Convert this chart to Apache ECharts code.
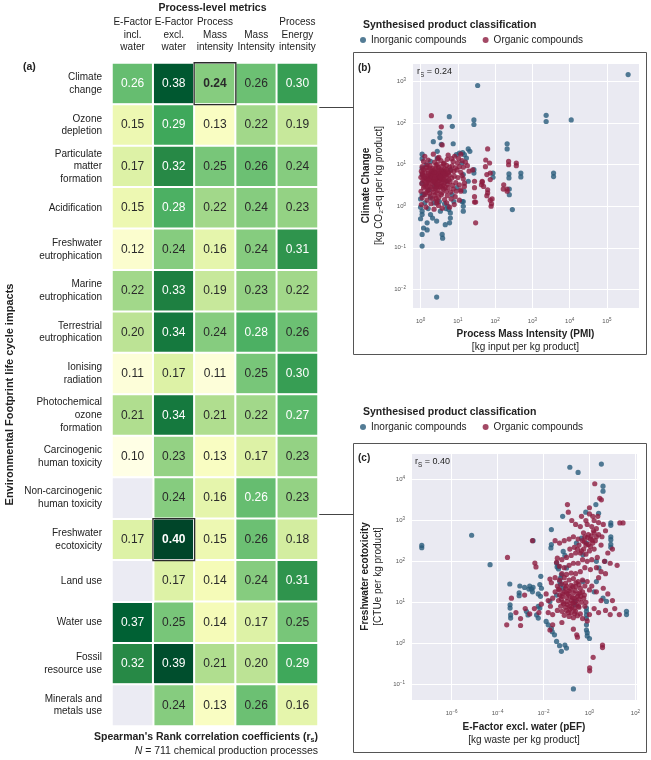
<!DOCTYPE html>
<html><head><meta charset="utf-8">
<script src="https://cdn.jsdelivr.net/npm/echarts@6/dist/echarts.min.js"></script>
<style>html,body{margin:0;padding:0;background:#fff}#c{width:651px;height:760px}</style>
</head><body><div id="c"></div>
<script>
// ---------- DATA ----------
const metrics = ['E-Factor\nincl.\nwater','E-Factor\nexcl.\nwater','Process\nMass\nintensity','Mass\nIntensity','Process\nEnergy\nintensity'];
const impacts = ['Climate\nchange','Ozone\ndepletion','Particulate\nmatter\nformation','Acidification','Freshwater\neutrophication','Marine\neutrophication','Terrestrial\neutrophication','Ionising\nradiation','Photochemical\nozone\nformation','Carcinogenic\nhuman toxicity','Non-carcinogenic\nhuman toxicity','Freshwater\necotoxicity','Land use','Water use','Fossil\nresource use','Minerals and\nmetals use'];
// Spearman rank coefficients, rows = impacts, cols = metrics (null = not available)
const rsValues = [
  [0.262,0.38,0.24,0.258,0.30],
  [0.15,0.29,0.13,0.22,0.19],
  [0.17,0.32,0.25,0.258,0.24],
  [0.15,0.28,0.22,0.24,0.23],
  [0.12,0.24,0.16,0.24,0.31],
  [0.22,0.33,0.19,0.23,0.22],
  [0.20,0.34,0.24,0.28,0.258],
  [0.11,0.17,0.11,0.25,0.30],
  [0.21,0.34,0.21,0.22,0.27],
  [0.10,0.23,0.13,0.17,0.23],
  [null,0.24,0.16,0.262,0.23],
  [0.17,0.40,0.15,0.258,0.18],
  [null,0.17,0.14,0.24,0.31],
  [0.37,0.25,0.14,0.17,0.25],
  [0.32,0.39,0.21,0.20,0.29],
  [null,0.24,0.13,0.258,0.16]
];
const highlightCells = [[2,0],[1,11]]; // [metric index, impact index]
const nProcesses = 711;
const rsPanelB = '0.24';
const rsPanelC = '0.40';
const seriesNames = ['Inorganic compounds','Organic compounds'];

// Panel (b): [PMI, Climate change]
const pmiInorganic = [[370000,1480],[34,810],[5.9,144],[27,120],[27,93],[7.1,84],[3.3,59],[3.3,45],[2.2,36],[7.5,32],[3.6,31],[2.8,21],[19,24],[21,21],[13.5,19.5],[2340,155],[2340,110],[11000,120],[210,32],[210,24],[235,6.0],[235,4.8],[490,6.3],[490,5.1],[3700,6.3],[3700,5.2],[88,6.3],[88,5.0],[27,7.6],[27,6.3],[240,2.6],[240,1.9],[290,0.83],[1.1,0.11],[1.1,0.21],[2.7,0.0065],[3.8,0.21],[3.9,0.17],[1.5,0.27],[1.1,18],[1.1,14],[1.1,0.76],[1.1,0.63],[1.6,0.88],[1.85,0.63],[2.1,0.52],[2.7,0.44],[3.4,0.76],[4.8,0.88],[5.7,0.83],[6.3,0.69],[6.3,0.52],[6.0,0.4],[1.5,0.4],[4.6,0.36],[14,1.3],[14,1.0],[14,0.76],[7.8,1.3],[1.2,1.9],[1.3,1.2],[1.85,1.6],[2.3,1.2],[3.2,1.3],[4.4,1.15],[5.4,1.0],[1.1,8.3],[1.1,5.8],[1.1,3.6],[1.1,1.9],[1.4,10],[1.85,12],[2.8,14.5],[4,7],[5.1,4],[6.3,7.6],[9.1,17.5],[11,19],[13,11],[14,5.8],[15,2.3],[17,14.5],[15,17.5],[13,1.3],[19,4],[9.5,2.8],[7,1.9],[2.4,3],[1.7,2.5],[1.0,1.5],[1.0,0.95],[1.0,0.5],[1.2,0.3]];
const pmiOrganic = [[1.95,152],[3.6,82],[3.8,30],[63,24],[56,13],[71,11],[74,6.3],[230,12],[230,10],[370,11],[370,9.5],[170,3.3],[165,2.6],[210,2.6],[210,2.3],[83,1.5],[80,1.15],[63,2.5],[63,2.1],[60,1.8],[45,4],[43,3.3],[28,4],[28,2.8],[28,1.7],[28,1.26],[15,3],[14,4.6],[15,3.6],[12,2.3],[55,9],[30,0.4],[74,4.4],[60,5.8],[49,3],[74,1.4],[78,1.0],[45,3.8],[30,1.26],
[1.3,16],[2.2,18],[3.1,15],[5.5,17],[8.2,16],[12,18],[6.8,14],
[1.2,12],[1.6,13],[2.4,11.5],[3.5,12.5],[4.3,11],[5.2,13.5],[7.5,12],[9.8,11],[13,12.5],[16,11.5],[2.9,14],[10.5,14],
[1.1,9],[1.4,8.5],[1.8,9.5],[2.1,8.2],[2.6,9.8],[3,8.6],[3.7,9.2],[4.5,8.1],[5,9.6],[6,8.8],[7,9.4],[8.5,8.4],[11,9],[14,8.7],[18,9.5],[1.5,10],[2.8,10.2],[4.1,10.5],
[1.05,7],[1.3,6.5],[1.6,7.5],[1.9,6.2],[2.2,7.2],[2.5,6.6],[2.9,7.8],[3.3,6.3],[3.8,7.1],[4.2,6.8],[4.9,7.6],[5.6,6.4],[6.5,7.3],[7.8,6.9],[9.5,7.5],[12,6.6],[1.2,7.7],[2,6.8],[3.5,7.5],[4.6,6.1],[20,7],[25,7.5],
[1.02,5],[1.15,5.6],[1.35,4.8],[1.55,5.3],[1.75,5.8],[2.05,4.9],[2.3,5.5],[2.7,4.6],[3.05,5.2],[3.4,5.7],[3.9,4.7],[4.4,5.4],[5.1,5],[5.9,5.6],[6.9,4.8],[8,5.3],[10,4.9],[13,5.5],[1.45,4.6],[2.55,5.9],[3.6,4.5],[4.8,5.9],[1.85,5.1],[2.95,4.7],
[1.08,3.5],[1.25,4.1],[1.42,3.2],[1.65,3.8],[1.95,4.3],[2.15,3.4],[2.45,3.9],[2.8,3.1],[3.2,4.2],[3.6,3.6],[4,3.2],[4.7,4],[5.3,3.4],[6.2,3.9],[7.2,3.2],[8.8,3.7],[11,3.3],[1.7,3.1],[2.6,3.5],[3.4,3],[1.15,4.4],[2.25,4.2],[4.3,3.7],[5.7,4.3],
[1.03,2.3],[1.2,2.8],[1.38,2.1],[1.6,2.5],[1.9,2.9],[2.2,2.2],[2.5,2.7],[2.9,2.4],[3.3,2.9],[3.7,2.1],[4.2,2.6],[4.9,2.3],[5.5,2.8],[6.4,2.2],[7.5,2.6],[9,2.3],[1.75,2.05],[2.75,2.1],[3.9,2.75],[12,2.5],
[1.1,1.6],[1.3,1.9],[1.5,1.4],[1.8,1.75],[2.1,1.5],[2.4,1.85],[2.8,1.35],[3.1,1.65],[3.6,1.9],[4.4,1.45],[5.2,1.8],[6.6,1.5],[8.5,1.7],[11,1.4],[2.6,1.55],
[1.05,1.1],[1.4,0.95],[1.9,1.15],[2.3,0.85],[3,1.05],[3.8,0.9],[5,1.2],[6,0.95],[2.7,1.2],[8,1.1],
[1.7,4.5],[2.35,3.7],[2.05,6],[2.65,5.2],[3.15,3.8],[1.45,3.6],[1.9,5.5],[2.4,4.6],[2.95,6.1],[3.5,4.9],[1.6,6.1],[2.15,2.6],[2.7,2.9],[1.3,3.0],[3.75,5.6],[4.2,4.4],[1.55,2.4],[2.35,6.6],[3.1,7],[1.8,8.2],[2.5,8],[4,6],[1.25,5.2],[1.12,6.2],[1.65,4.2],[2.85,3.4],[2.2,3.9],[3.4,5.1],[4.6,2.9],[5.4,6.7]];

// Panel (c): [pEF, Freshwater ecotoxicity]
const pefInorganic = [[5e-8,245],[5e-8,215],[7.4e-6,435],[4.7e-5,83],[3.4e-4,28],[3.5e-4,8.7],[3.5e-4,7.2],[3.7e-4,4.9],[3.7e-4,4.1],[0.14,20000],[0.32,15000],[3.3,24000],[0.022,600],[3.5e-3,320],[3.9,6900],[3.9,5200],[1.9,2450],[0.69,1600],[0.068,1260],[2.5,1500],[8.5,870],[8.5,760],[8.5,400],[8.5,340],[8.5,260],[8.5,220],[41,6],[41,5],[0.2,0.076],[0.06,0.63],[0.05,0.87],[0.037,1.1],[0.03,1.6],[0.8,1.8],[0.8,1.5],[0.022,257],[0.021,213],[7.6e-3,43],[8.7e-4,17],[8.7e-4,14.5],[2.3e-3,21],[3.3e-3,18],[6.9e-3,27],[8.1e-3,22],[0.039,73],[0.045,65],[1.5e-3,23],[3.5e-3,23],[5.9e-3,16],[7.4e-3,14],[5.9e-3,8],[6.9e-3,7.2],[0.013,3.4],[0.016,2.8],[0.022,2.3],[0.024,1.9],[0.051,32],[0.055,27],[0.07,22],[0.23,10.5],[0.23,8.7],[0.74,7.2],[0.74,6],[0.74,4.9],[0.74,4],[0.74,2.8],[0.74,2.1],[0.52,32],[2,100],[2.6,69],[4.7,100],[2,32],[1.6,18],[0.52,145],[0.74,280],[0.45,370],[0.27,280],[0.072,175],[0.085,140],[0.037,91],[0.044,76],[0.1,69],[0.06,47],[0.055,39],[0.037,15],[0.019,10.5],[2.5e-3,25],[3e-3,21],[9.3e-4,25],[5e-3,4.9],[5.9e-3,4.1],[1.8e-3,6],[2.1e-3,4.9],[1.0,1.3],[0.085,0.9],[0.1,0.76],[3.9,12.6],[5.5,10.5]];
const pefOrganic = [[1.7,7900],[2.8,3500],[3.3,3200],[1.0,2050],[0.11,2450],[0.12,1600],[0.17,1000],[0.45,1260],[1.0,1450],[1.4,1260],[2.3,1260],[21,870],[29,870],[0.8,800],[1.26,710],[2,630],[1.6,500],[0.9,450],[2.5,450],[1.1,350],[0.63,400],[1.8,320],[0.5,320],[0.32,350],[0.2,400],[0.13,350],[0.08,320],[0.05,280],[0.032,320],[3.5,400],[1.4,280],[0.7,250],[0.35,250],[0.22,220],[0.14,200],[3.3e-3,320],[2.7e-4,125],
[0.56,200],[1.0,180],[1.6,200],[0.4,160],[0.25,160],[0.16,140],[0.1,125],[0.063,110],[0.04,120],[0.037,95],[0.5,110],[0.8,100],[1.26,110],[2.2,125],[0.32,90],[0.2,90],[0.13,80],[0.08,70],[0.05,76],[0.63,70],[1.1,63],[2,70],[3.2,56],[5,50],[16,80],[4.2e-3,91],[4.7e-3,73],[0.4,56],[0.25,50],[0.16,52],[0.1,48],[0.063,50],[0.019,37],[0.022,30],
[0.032,40],[0.05,35],[0.08,40],[0.13,35],[0.2,38],[0.32,32],[0.5,35],[0.8,32],[0.04,25],[0.063,28],[0.1,25],[0.16,26],[0.25,24],[0.4,22],[0.63,25],[1.0,20],[0.032,18],[0.05,20],[0.08,18],[0.13,19],[0.2,17],[0.32,16],[0.5,18],[0.063,14],[0.1,13],[0.14,14],[0.22,12.6],[0.35,12],[0.56,12.6],[0.045,11],[0.07,10],[0.11,10.5],[0.18,9.5],[0.28,9],[0.45,10],[0.056,8],[0.09,7.6],[0.14,8],[0.22,7],[0.35,7.6],[0.04,6.3],[0.063,6],[0.1,6.3],[0.16,5.6],[0.25,6],[0.4,5.2],[0.08,4.8],[0.13,4.5],[0.2,4.2],[0.025,5],[0.016,5.6],[0.02,8],[0.016,11],[0.025,12.6],[0.013,16],[8e-3,9],[6.3e-3,5.6],[4e-3,7],[2.5e-3,5.2],[1.6e-3,7],[1e-3,4],[6.3e-4,5.6],[4e-4,12.6],[2.5e-4,2.8],[1e-3,2.7],[1.5e-3,15],[0.019,2.1],[0.025,2.8],[0.063,3.2],[0.28,1.6],[0.3,1.4],[0.2,2.2],[3.7,0.9],[3.7,0.78],[1.45,0.45],[1.02,0.25],[1.02,0.21],
[1.26,25],[2,18],[3.2,11],[2.5,5.6],[1.6,7],[5,6.3],[8,5],[12.6,7],[20,5],[6.3,16],[10,11],[4,22],[2.5,40],[0.63,8],[1,5],[0.5,4],[0.8,3.5],
[4,800],[5,560],[3.2,250],[6.3,160],[4.5,100],[8,90],[10,200],[2.5,890],[1.6,1000],[0.7,1000],[0.4,710],[0.25,800],
[0.07,16],[0.09,22],[0.12,16],[0.15,21],[0.18,13],[0.24,19],[0.3,14],[0.38,17],[0.06,12],[0.11,8.8],[0.16,11],[0.2,9.5],[0.27,11],[0.33,8],[0.42,14],[0.05,15],[0.075,9.2],[0.14,6.8],[0.1,17],[0.19,24],[0.26,30],[0.35,27],[0.6,15],[0.7,10],[0.09,29],[0.045,21],[0.17,7.3],[0.23,5.3],[0.12,5.6],[0.3,4.7],
[0.6,300],[0.8,380],[1.2,420],[1.5,560],[0.9,260],[1.1,230],[0.45,180],[0.7,150],[1.3,330],[2,400],[0.55,500],[0.3,200]];

// ---------- BUILD ----------
const FONT = 'Liberation Sans, Arial, Helvetica, sans-serif';
const INK = '#222';
const COL_INORG = '#285b7a';
const COL_ORG = '#8c1c3e';
const BG = '#eaeaf2';

const heatData = [], missingData = [], hlData = [];
rsValues.forEach((row, r) => row.forEach((v, c) => {
  if (v == null) { missingData.push([c, r, 0]); return; }
  const hl = highlightCells.some(h => h[0] === c && h[1] === r);
  heatData.push({ value: [c, r, v], label: { color: v >= 0.26 ? '#fff' : '#2a2a2a', fontWeight: hl ? 'bold' : 'normal' } });
  if (hl) hlData.push([c, r, v]);
}));

function expLabel(v) {
  const e = Math.log10(v);
  const r = Math.round(e);
  if (Math.abs(e - r) > 1e-6) return '';
  return '10{s|' + (r < 0 ? '\u2212' + (-r) : r) + '}';
}
function logAxis(gridIndex, min, max, base, name, gap, isY) {
  return {
    type: 'log', logBase: base, gridIndex, min, max,
    axisLine: { show: false }, axisTick: { show: false },
    splitLine: { show: true, lineStyle: { color: '#ffffff', width: 1 } },
    axisLabel: {
      showMinLabel: false, showMaxLabel: false,
      fontSize: 6, color: '#555', fontFamily: FONT, lineHeight: 8,
      margin: isY ? 6 : 9,
      formatter: expLabel,
      rich: { s: { fontSize: 4.5, lineHeight: 5, verticalAlign: 'top', color: '#555', fontFamily: FONT } }
    },
    name, nameLocation: 'middle', nameGap: gap, nameRotate: isY ? 90 : 0,
    nameTextStyle: { rich: {
      t: { fontSize: 10, fontWeight: 'bold', color: INK, lineHeight: 13, fontFamily: FONT },
      u: { fontSize: 10, color: INK, lineHeight: 13, fontFamily: FONT }
    } }
  };
}
function txt(x, y, text, opts) {
  return Object.assign({ type: 'text', x, y, silent: true, style: Object.assign({ text, fill: INK, fontFamily: FONT, fontSize: 10.5, align: 'left', verticalAlign: 'middle' }, opts || {}) });
}
const richR = (fs) => ({ r: { fontSize: fs, fill: INK, color: INK, fontFamily: FONT, lineHeight: 12 }, s: { fontSize: fs * 0.7, color: INK, fontFamily: FONT, verticalAlign: 'bottom', lineHeight: 9 } });

const legendCommon = {
  data: seriesNames, icon: 'circle', itemWidth: 6, itemHeight: 6, itemGap: 16, padding: 0,
  textStyle: { fontSize: 10, color: INK, fontFamily: FONT }, selectedMode: false
};
const scatterBase = { type: 'scatter', symbolSize: 5.2, emphasis: { disabled: true } };

const option = {
  animation: false,
  textStyle: { fontFamily: FONT },
  grid: [
    { left: 112, top: 63, width: 206, height: 663, outerBoundsMode: 'none' },
    { left: 412, top: 63, width: 227, height: 245, show: true, backgroundColor: BG, borderWidth: 0, outerBoundsMode: 'none' },
    { left: 411, top: 453, width: 226, height: 247, show: true, backgroundColor: BG, borderWidth: 0, outerBoundsMode: 'none' }
  ],
  xAxis: [
    { type: 'category', data: metrics, gridIndex: 0, position: 'top',
      axisLine: { show: false }, axisTick: { show: false }, splitLine: { show: false },
      axisLabel: { interval: 0, fontSize: 10, lineHeight: 12.6, color: INK, margin: 9, fontFamily: FONT } },
    logAxis(1, Math.pow(10, -0.23), Math.pow(10, 5.86), 10, '{t|Process Mass Intensity (PMI)}\n{u|[kg input per kg product]}', 20, false),
    logAxis(2, Math.pow(10, -7.77), Math.pow(10, 2.07), 100, '{t|E-Factor excl. water (pEF)}\n{u|[kg waste per kg product]}', 21, false)
  ],
  yAxis: [
    { type: 'category', data: impacts, gridIndex: 0, inverse: true,
      axisLine: { show: false }, axisTick: { show: false }, splitLine: { show: false },
      axisLabel: { interval: 0, fontSize: 10, lineHeight: 12.7, color: INK, margin: 10, fontFamily: FONT },
      name: 'Environmental Footprint life cycle impacts', nameLocation: 'middle', nameGap: 97,
      nameTextStyle: { fontSize: 11, fontWeight: 'bold', color: INK, fontFamily: FONT } },
    logAxis(1, Math.pow(10, -2.45), Math.pow(10, 3.45), 10, '{t|Climate Change}\n{u|[kg CO\u2082-eq per kg product]}', 26, true),
    logAxis(2, Math.pow(10, -1.39), Math.pow(10, 4.65), 10, '{t|Freshwater ecotoxicity}\n{u|[CTUe per kg product]}', 26, true)
  ],
  visualMap: [{
    type: 'continuous', show: false, seriesIndex: 0, dimension: 2, min: 0.10, max: 0.40,
    inRange: { color: ['#ffffe5','#f7fcb9','#d9f0a3','#addd8e','#78c679','#41ab5d','#238443','#006837','#004529'] }
  }],
  legend: [
    Object.assign({ left: 360, top: 35 }, legendCommon),
    Object.assign({ left: 360, top: 422 }, legendCommon)
  ],
  series: [
    { type: 'heatmap', xAxisIndex: 0, yAxisIndex: 0, data: heatData,
      itemStyle: { borderColor: '#ffffff', borderWidth: 2 },
      label: { show: true, fontSize: 12, fontFamily: FONT, formatter: p => p.value[2].toFixed(2) },
      emphasis: { disabled: true } },
    { type: 'heatmap', xAxisIndex: 0, yAxisIndex: 0, data: missingData,
      itemStyle: { color: '#ebebf3', borderColor: '#ffffff', borderWidth: 2 }, label: { show: false }, emphasis: { disabled: true } },
    { type: 'heatmap', xAxisIndex: 0, yAxisIndex: 0, data: hlData, z: 5,
      itemStyle: { color: 'rgba(0,0,0,0)', borderColor: '#2b2b2b', borderWidth: 1.3 }, label: { show: false }, emphasis: { disabled: true } },
    Object.assign({ name: seriesNames[0], xAxisIndex: 1, yAxisIndex: 1, data: pmiInorganic, itemStyle: { color: COL_INORG } }, scatterBase),
    Object.assign({ name: seriesNames[1], xAxisIndex: 1, yAxisIndex: 1, data: pmiOrganic, itemStyle: { color: COL_ORG } }, scatterBase),
    Object.assign({ name: seriesNames[0], xAxisIndex: 2, yAxisIndex: 2, data: pefInorganic, itemStyle: { color: COL_INORG } }, scatterBase),
    Object.assign({ name: seriesNames[1], xAxisIndex: 2, yAxisIndex: 2, data: pefOrganic, itemStyle: { color: COL_ORG } }, scatterBase)
  ],
  graphic: [
    txt(212.5, 8, 'Process-level metrics', { fontWeight: 'bold', align: 'center' }),
    txt(23, 67, '(a)', { fontWeight: 'bold' }),
    txt(318, 737, '{b|Spearman\'s Rank correlation coefficients (r}{bs|s}{b|)}', { align: 'right',
      rich: { b: { fontSize: 10.5, fontWeight: 'bold', fontFamily: FONT, fill: INK, lineHeight: 13 }, bs: { fontSize: 7, fontWeight: 'bold', fontFamily: FONT, fill: INK, verticalAlign: 'bottom', lineHeight: 9 } } }),
    txt(318, 751, '{i|N}{n| = ' + nProcesses + ' chemical production processes}', { align: 'right',
      rich: { i: { fontSize: 10.5, fontStyle: 'italic', fontFamily: FONT, fill: INK }, n: { fontSize: 10.5, fontFamily: FONT, fill: INK } } }),
    // panel frames and connectors
    { type: 'rect', silent: true, shape: { x: 353.5, y: 52.5, width: 293, height: 302 }, style: { fill: 'none', stroke: '#555', lineWidth: 1 } },
    { type: 'rect', silent: true, shape: { x: 353.5, y: 443.5, width: 293, height: 309 }, style: { fill: 'none', stroke: '#555', lineWidth: 1 } },
    { type: 'polyline', silent: true, shape: { points: [[216.5, 103], [216.5, 107.5], [353.5, 107.5]] }, style: { fill: null, stroke: '#444', lineWidth: 1 } },
    { type: 'polyline', silent: true, shape: { points: [[173.5, 519], [173.5, 514.5], [353.5, 514.5]] }, style: { fill: null, stroke: '#444', lineWidth: 1 } },
    // panel titles
    txt(363, 25, 'Synthesised product classification', { fontWeight: 'bold' }),
    txt(363, 412, 'Synthesised product classification', { fontWeight: 'bold' }),
    txt(358, 68, '(b)', { fontWeight: 'bold', fontSize: 10 }),
    txt(358, 458, '(c)', { fontWeight: 'bold', fontSize: 10 }),
    txt(417, 72, '{r|r}{s|S}{r| = ' + rsPanelB + '}', { rich: richR(9) }),
    txt(415, 462, '{r|r}{s|S}{r| = ' + rsPanelC + '}', { rich: richR(9) })
  ]
};
const chart = echarts.init(document.getElementById('c'), null, { renderer: 'canvas' });
chart.setOption(option);
</script>
</body></html>
